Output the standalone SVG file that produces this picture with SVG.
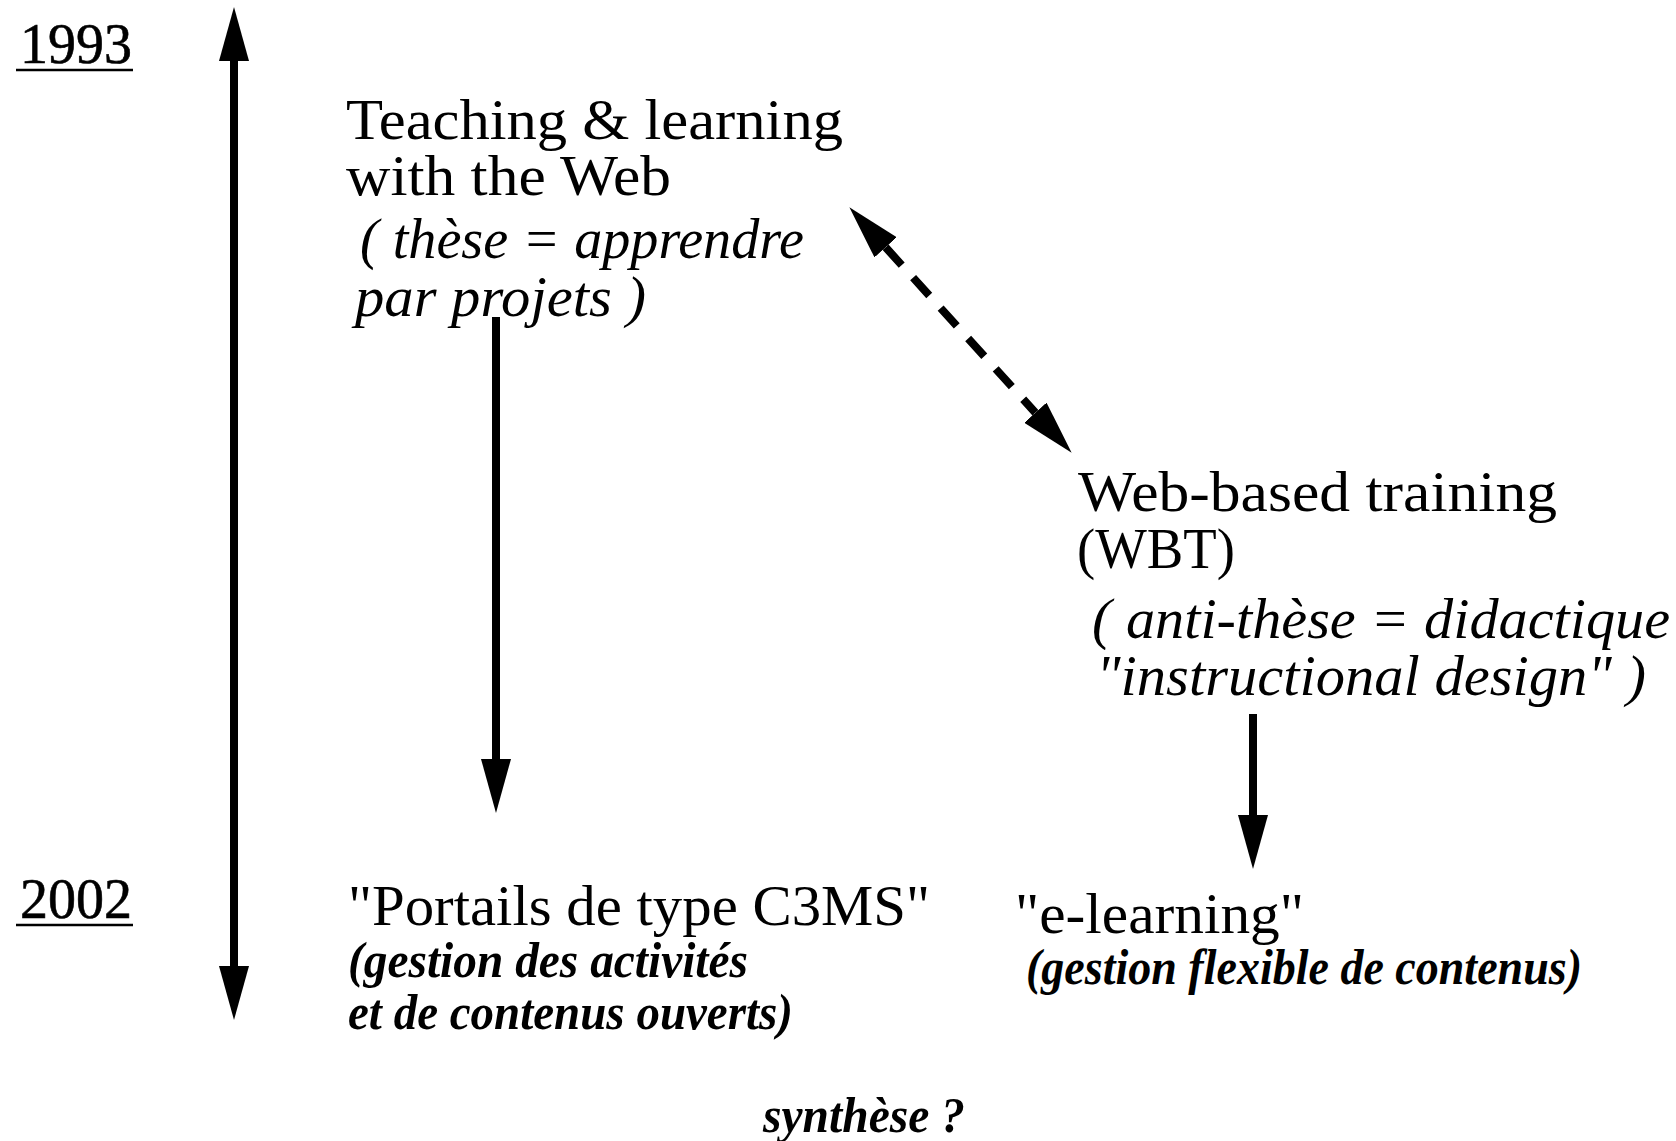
<svg xmlns="http://www.w3.org/2000/svg" width="1676" height="1141" viewBox="0 0 1676 1141">
  <style>
    .t { font-family: "Liberation Serif", "Times New Roman", serif; font-size: 56px; fill: #000; }
    .i { font-family: "Liberation Serif", "Times New Roman", serif; font-size: 56px; font-style: italic; fill: #000; }
    .b { font-family: "Liberation Serif", "Times New Roman", serif; font-size: 50px; font-style: italic; font-weight: bold; fill: #000; }
    .yr { font-family: "Liberation Serif", "Times New Roman", serif; font-size: 56px; fill: #000; stroke: #000; stroke-width: 0.6; }
    .conn { stroke: #000; stroke-width: 8; fill: none; }
    .dash { stroke-dasharray: 24 17; }
  </style>
  <defs>
    <marker id="ah" markerUnits="userSpaceOnUse" markerWidth="54" markerHeight="30" refX="0" refY="15" orient="auto-start-reverse" viewBox="0 0 54 30">
      <path d="M0,0 L54,15 L0,30 z" fill="#000"/>
    </marker>
  </defs>

  <g id="year-1993">
    <text class="yr" x="20" y="63">1993</text>
    <line x1="16" y1="70" x2="133" y2="70" stroke="#000" stroke-width="2.5"/>
  </g>
  <g id="year-2002">
    <text class="yr" x="20" y="918">2002</text>
    <line x1="16" y1="925" x2="133" y2="925" stroke="#000" stroke-width="2.5"/>
  </g>

  <g id="node-teaching">
    <text class="t" x="346" y="139" textLength="497" lengthAdjust="spacingAndGlyphs">Teaching &amp; learning</text>
    <text class="t" x="346" y="195" textLength="325" lengthAdjust="spacingAndGlyphs">with the Web</text>
    <text class="i" x="360" y="258" textLength="444" lengthAdjust="spacingAndGlyphs">( thèse = apprendre</text>
    <text class="i" x="355" y="316" textLength="291" lengthAdjust="spacingAndGlyphs">par projets )</text>
  </g>

  <g id="node-wbt">
    <text class="t" x="1078" y="511" textLength="479" lengthAdjust="spacingAndGlyphs">Web-based training</text>
    <text class="t" x="1077" y="568" textLength="158" lengthAdjust="spacingAndGlyphs">(WBT)</text>
    <text class="i" x="1092" y="638" textLength="578" lengthAdjust="spacingAndGlyphs">( anti-thèse = didactique</text>
    <text class="i" x="1096" y="695" textLength="550" lengthAdjust="spacingAndGlyphs">"instructional design" )</text>
  </g>

  <g id="node-portails">
    <text class="t" x="348" y="925" textLength="582" lengthAdjust="spacingAndGlyphs">"Portails de type C3MS"</text>
    <text class="b" x="348" y="977" textLength="400" lengthAdjust="spacingAndGlyphs">(gestion des activités</text>
    <text class="b" x="348" y="1029" textLength="445" lengthAdjust="spacingAndGlyphs">et de contenus ouverts)</text>
  </g>

  <g id="node-elearning">
    <text class="t" x="1015" y="933" textLength="289" lengthAdjust="spacingAndGlyphs">"e-learning"</text>
    <text class="b" x="1026" y="984" textLength="556" lengthAdjust="spacingAndGlyphs">(gestion flexible de contenus)</text>
  </g>

  <g id="node-synthese">
    <text class="b" x="763" y="1132" textLength="202" lengthAdjust="spacingAndGlyphs">synthèse ?</text>
  </g>

  <g id="connectors">
    <line class="conn" x1="234" y1="61" x2="234" y2="966" marker-start="url(#ah)" marker-end="url(#ah)"/>
    <line class="conn" x1="496" y1="317" x2="496" y2="759" marker-end="url(#ah)"/>
    <line class="conn" x1="1253" y1="714" x2="1253" y2="815" marker-end="url(#ah)"/>
    <line class="conn dash" x1="885.6" y1="247.3" x2="1035.4" y2="412.7" marker-start="url(#ah)" marker-end="url(#ah)"/>
  </g>
</svg>
